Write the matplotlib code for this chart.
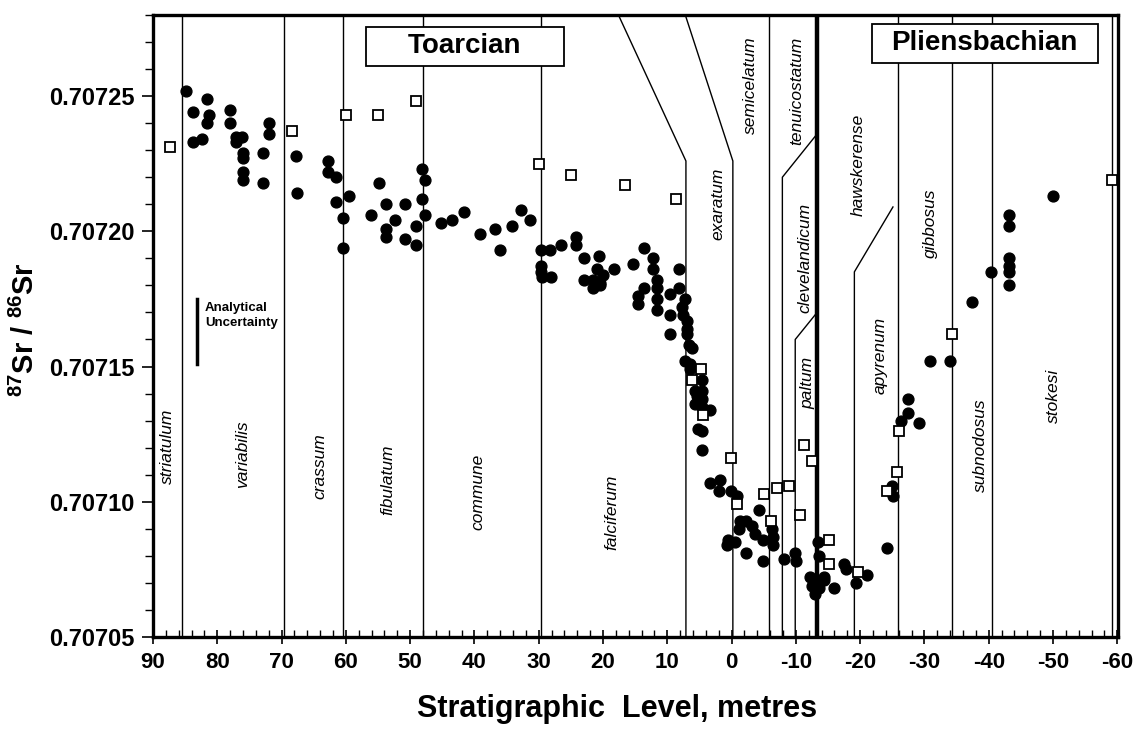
import numpy as np
import matplotlib
matplotlib.use('Agg')
import matplotlib.pyplot as plt
from matplotlib.patches import Rectangle
from matplotlib.ticker import MultipleLocator, FormatStrFormatter

plt.rcParams['font.family'] = ['Liberation Sans', 'DejaVu Sans']
plt.rcParams['mathtext.fontset'] = 'custom'
plt.rcParams['mathtext.rm'] = 'Liberation Sans:bold'
plt.rcParams['mathtext.bf'] = 'Liberation Sans:bold'
plt.rcParams['mathtext.default'] = 'bf'
plt.rcParams['axes.unicode_minus'] = False

# --- data: belemnite Sr isotope ratios (filled circles) ---
circle_x = [84.8, 83.8, 83.8, 82.4, 81.6, 81.3, 81.6, 78.0, 78.0, 77.1, 76.2, 77.1,
            76.0, 76.0, 76.0, 76.0, 72.9, 72.9, 72.0, 72.0, 67.8, 67.6, 62.8, 62.8,
            61.6, 61.6, 59.5, 60.5, 60.5, 54.9, 53.7, 56.1, 53.8, 53.8, 52.4, 50.8,
            50.8, 49.1, 49.1, 48.2, 47.7, 48.2, 47.7, 45.2, 43.5, 41.6, 39.1, 36.8,
            36.0, 34.2, 32.8, 31.3, 29.7, 28.2, 29.7, 29.7, 29.5, 28.1, 26.6, 24.2,
            24.2, 22.9, 20.6, 22.9, 21.0, 20.0, 21.6, 20.4, 21.6, 20.4, 18.3, 15.3,
            13.6, 12.2, 12.2, 11.6, 11.6, 11.6, 11.6, 13.6, 14.5, 14.5, 8.1, 8.1,
            9.6, 9.6, 9.6, 7.2, 7.7, 7.5, 7.0, 7.0, 6.7, 6.1, 7.0, 7.2, 6.4, 6.4,
            4.6, 5.7, 4.6, 5.4, 4.6, 5.7, 4.6, 3.3, 5.2, 4.6, 4.6, 3.3, 1.8, 2.0,
            0.1, -0.8, -1.3, -2.3, -3.2, -3.7, -1.1, 0.5, 0.7, -0.5, -2.3, -4.3,
            -4.9, -4.9, -6.3, -6.4, -6.4, -8.2, -9.9, -10.0, -13.4, -13.6, -12.2,
            -13.0, -14.3, -12.5, -13.6, -13.0, -14.3, -15.9, -17.5, -17.8, -19.3,
            -21.1, -24.2, -24.9, -25.1, -26.3, -27.5, -27.5, -29.2, -30.9, -34.0,
            -37.4, -40.3, -43.2, -43.2, -43.2, -43.2, -43.2, -43.2, -50.0]
circle_y = [0.707252, 0.707244, 0.707233, 0.707234, 0.707249, 0.707243, 0.707240,
            0.707245, 0.707240, 0.707235, 0.707235, 0.707233, 0.707229, 0.707227,
            0.707222, 0.707219, 0.707229, 0.707218, 0.707240, 0.707236, 0.707228,
            0.707214, 0.707226, 0.707222, 0.707220, 0.707211, 0.707213, 0.707205,
            0.707194, 0.707218, 0.707210, 0.707206, 0.707201, 0.707198, 0.707204,
            0.707210, 0.707197, 0.707202, 0.707195, 0.707223, 0.707219, 0.707212,
            0.707206, 0.707203, 0.707204, 0.707207, 0.707199, 0.707201, 0.707193,
            0.707202, 0.707208, 0.707204, 0.707193, 0.707193, 0.707187, 0.707185,
            0.707183, 0.707183, 0.707195, 0.707198, 0.707195, 0.707190, 0.707191,
            0.707182, 0.707186, 0.707184, 0.707182, 0.707181, 0.707179, 0.707180,
            0.707186, 0.707188, 0.707194, 0.707190, 0.707186, 0.707182, 0.707179,
            0.707175, 0.707171, 0.707179, 0.707176, 0.707173, 0.707186, 0.707179,
            0.707177, 0.707169, 0.707162, 0.707175, 0.707172, 0.707169, 0.707167,
            0.707162, 0.707158, 0.707157, 0.707164, 0.707152, 0.707151, 0.707149,
            0.707145, 0.707141, 0.707141, 0.707139, 0.707138, 0.707136, 0.707135,
            0.707134, 0.707127, 0.707126, 0.707119, 0.707107, 0.707108, 0.707104,
            0.707104, 0.707102, 0.707093, 0.707093, 0.707091, 0.707088, 0.707090,
            0.707086, 0.707084, 0.707085, 0.707081, 0.707097, 0.707086, 0.707078,
            0.707090, 0.707087, 0.707084, 0.707079, 0.707081, 0.707078, 0.707085,
            0.707080, 0.707072, 0.707071, 0.707071, 0.707069, 0.707068, 0.707066,
            0.707072, 0.707068, 0.707077, 0.707075, 0.707070, 0.707073, 0.707083,
            0.707106, 0.707102, 0.707130, 0.707133, 0.707138, 0.707129, 0.707152,
            0.707152, 0.707174, 0.707185, 0.707206, 0.707202, 0.707190, 0.707187,
            0.707185, 0.707180, 0.707213]

# --- data: open squares ---
square_x = [87.4, 68.4, 59.9, 55.0, 49.1, 30.0, 24.9, 16.6, 8.6, 4.8, 6.2, 4.4,
            0.1, -0.8, -5.1, -6.1, -7.1, -9.0, -10.6, -11.2, -12.5, -15.1, -15.1,
            -19.6, -24.1, -25.8, -26.1, -34.3, -59.2]
square_y = [0.707231, 0.707237, 0.707243, 0.707243, 0.707248, 0.707225, 0.707221,
            0.707217, 0.707212, 0.707149, 0.707145, 0.707132, 0.707116, 0.707099,
            0.707103, 0.707093, 0.707105, 0.707106, 0.707095, 0.707121, 0.707115,
            0.707086, 0.707077, 0.707074, 0.707104, 0.707111, 0.707126, 0.707162,
            0.707219]

# --- zone boundaries ---
full_boundaries = [85.5, 69.6, 60.4, 48.0, 29.7, -5.8, -25.9, -34.3, -40.5, -59.1]
stage_boundary = -13.3
# bent boundaries: vertical from the bottom to a kink, then a slanted segment
bent_x = [[7.1, 7.1, 17.6], [-0.2, -0.2, 7.2], [-7.9, -7.9, -13.3],
          [-9.9, -9.9, -13.3], [-19.1, -19.1, -25.1]]
bent_y = [[0.70705, 0.707226, 0.70728], [0.70705, 0.707226, 0.70728],
          [0.70705, 0.707220, 0.707236], [0.70705, 0.707160, 0.707170],
          [0.70705, 0.707185, 0.707209]]

zone_names = ['striatulum', 'variabilis', 'crassum', 'fibulatum', 'commune',
              'falciferum', 'exaratum', 'semicelatum', 'tenuicostatum',
              'clevelandicum', 'paltum', 'hawskerense', 'apyrenum', 'gibbosus',
              'subnodosus', 'stokesi']
zone_x = [87.7, 76.0, 64.0, 53.4, 39.4, 18.6, 2.2, -2.9, -10.2, -11.4, -11.8,
          -19.7, -23.1, -30.9, -38.7, -50.0]
zone_y = [0.7071205, 0.7071175, 0.707113, 0.707108, 0.7071035, 0.707096,
          0.707210, 0.707254, 0.707252, 0.707190, 0.707144, 0.7072245,
          0.707154, 0.707203, 0.707121, 0.707139]

uncert_x = 83.2
uncert_y = [0.707151, 0.707175]

fig = plt.figure(figsize=(11.38, 7.33), dpi=100)
ax = fig.add_axes([0.1344, 0.1310, 0.8480, 0.8486])

for xb in full_boundaries:
    ax.axvline(xb, color='black', lw=1.0, zorder=1)
ax.axvline(stage_boundary, color='black', lw=3.2, zorder=1)
for bx, by in zip(bent_x, bent_y):
    ax.plot(bx, by, color='black', lw=1.0, zorder=1)

ax.plot(circle_x, circle_y, 'o', color='black', ms=7.8, zorder=3)
ax.plot(square_x, square_y, 's', mfc='white', mec='black', mew=1.3, ms=6.5,
        zorder=4)

for name, zx, zy in zip(zone_names, zone_x, zone_y):
    ax.text(zx, zy, name, rotation=90, style='italic', fontsize=12.5,
            ha='center', va='center', zorder=2)

# analytical uncertainty bar
ax.plot([uncert_x, uncert_x], uncert_y, color='black', lw=2.5, zorder=2)
ax.text(uncert_x - 1.3, uncert_y[1] - 0.0000012, 'Analytical\nUncertainty',
        fontsize=9.5, fontweight='bold', ha='left', va='top', linespacing=1.3)

# stage boxes
for label, x0, x1, y0, y1 in [('Toarcian', 0.2207, 0.4259, 0.918, 0.9807),
                              ('Pliensbachian', 0.745, 0.979, 0.9228, 0.9855)]:
    ax.add_patch(Rectangle((x0, y0), x1 - x0, y1 - y0, transform=ax.transAxes,
                           facecolor='white', edgecolor='black', lw=1.3,
                           zorder=5))
    ax.text((x0 + x1) / 2, (y0 + y1) / 2, label, transform=ax.transAxes,
            fontsize=20, fontweight='bold', ha='center', va='center', zorder=6)

ax.set_xlim(90, -60.1)
ax.set_ylim(0.70705, 0.70728)
ax.xaxis.set_major_locator(MultipleLocator(10))
ax.xaxis.set_minor_locator(MultipleLocator(2))
ax.yaxis.set_major_locator(MultipleLocator(0.00005))
ax.yaxis.set_minor_locator(MultipleLocator(0.00001))
ax.yaxis.set_major_formatter(FormatStrFormatter('%.5f'))
ax.tick_params(axis='x', which='major', direction='inout', length=10, width=1.2,
               labelsize=16, pad=6)
ax.tick_params(axis='x', which='minor', direction='in', length=5, width=1.0)
ax.tick_params(axis='y', which='major', direction='out', length=8, width=1.2,
               labelsize=17, pad=5)
ax.tick_params(axis='y', which='minor', direction='out', length=6, width=1.0)
for lab in ax.get_xticklabels() + ax.get_yticklabels():
    lab.set_fontweight('bold')
for sp in ax.spines.values():
    sp.set_linewidth(2.4)

ax.set_xlabel('Stratigraphic  Level, metres', fontsize=22, fontweight='bold')
ax.xaxis.set_label_coords(0.481, -0.092)
ax.set_ylabel(r'$^{87}$Sr / $^{86}$Sr', fontsize=21, fontweight='bold')
ax.yaxis.set_label_coords(-0.117, 0.494)

fig.savefig('out.png', dpi=100)
